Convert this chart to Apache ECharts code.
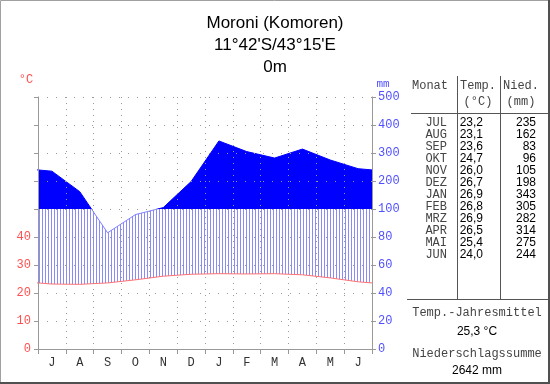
<!DOCTYPE html>
<html><head><meta charset="utf-8">
<script src="https://cdn.jsdelivr.net/npm/echarts@6/dist/echarts.min.js"></script>
<style>html,body{margin:0;padding:0;background:#fff}#c{width:550px;height:384px}</style>
</head><body><div id="c"></div>
<script>
// ---- data ----
const axisMonths = ['J','A','S','O','N','D','J','F','M','A','M','J'];
const tableMonths = ['JUL','AUG','SEP','OKT','NOV','DEZ','JAN','FEB','MRZ','APR','MAI','JUN'];
const temps = [23.2,23.1,23.6,24.7,26.0,26.7,26.9,26.8,26.9,26.5,25.4,24.0];
const precs = [235,162,83,96,105,198,343,305,282,314,275,244];
const titleLines = ['Moroni (Komoren)', "11°42'S/43°15'E", '0m'];

// ---- scales (Walter-Lieth: 10 °C = 20 mm, above 100 mm compressed 1:5) ----
const tToC = t => t * 2;
const pToC = p => p <= 100 ? p : 100 + (p - 100) / 5;
const cToT = c => c / 2;
const cToP = c => c <= 100 ? c : 100 + (c - 100) * 5;
const C_MAX = pToC(500);

function wrapSeries(vals, f) {
  const n = vals.length;
  const out = [[-0.5, f(vals[n - 1])]];
  vals.forEach((v, i) => out.push([i + 0.5, f(v)]));
  out.push([n + 0.5, f(vals[0])]);
  return out;
}
const fmt1 = v => v.toFixed(1).replace('.', ',');
const meanT = temps.reduce((a, b) => a + b, 0) / temps.length;
const sumP = precs.reduce((a, b) => a + b, 0);

// hatch pattern
const pc = document.createElement('canvas');
pc.width = 3; pc.height = 4;
const pctx = pc.getContext('2d');
pctx.fillStyle = '#ffffff'; pctx.fillRect(0, 0, 3, 4);
pctx.fillStyle = '#8a8aff'; pctx.fillRect(0, 0, 1, 4);

const MONO = '"Liberation Mono", "Courier New", monospace';
const SANS = '"Liberation Sans", Arial, sans-serif';

const graphics = [];
function txt(x, y, text, opt) {
  graphics.push({type: 'text', x: x, y: y, silent: true, z: 20,
    style: Object.assign({text: text, fill: '#000', font: '12px ' + SANS, align: 'center', verticalAlign: 'middle'}, opt || {})});
}
function line(x1, y1, x2, y2, color, w) {
  graphics.push({type: 'line', silent: true, z: 20, shape: {x1, y1, x2, y2}, style: {stroke: color, lineWidth: w || 1}});
}
// frame
graphics.push({type: 'rect', silent: true, z: 20, shape: {x: 0.5, y: 0.5, width: 548, height: 382}, style: {fill: null, stroke: '#a0a0a0', lineWidth: 1}});
line(0, 383, 550, 383, '#505050', 2);
line(549, 0, 549, 384, '#505050', 2);
// axis units
txt(26, 80, '°C', {fill: '#ff5050', font: '12px ' + MONO});
txt(383, 84, 'mm', {fill: '#5050ff', font: '11px ' + MONO});
// table
txt(430, 86, 'Monat', {fill: '#444', font: '12px ' + MONO});
txt(478, 86, 'Temp.', {fill: '#444', font: '12px ' + MONO});
txt(478, 102, '(°C)', {fill: '#444', font: '12px ' + MONO});
txt(521, 86, 'Nied.', {fill: '#444', font: '12px ' + MONO});
txt(521, 102, '(mm)', {fill: '#444', font: '12px ' + MONO});
line(457.5, 76, 457.5, 299, '#555');
line(500.5, 76, 500.5, 299, '#555');
line(411, 113.5, 548, 113.5, '#555');
line(407, 299.5, 548, 299.5, '#555');
tableMonths.forEach((m, i) => {
  const y = 123 + i * 12;
  txt(447, y, m, {fill: '#444', font: '12px ' + MONO, align: 'right'});
  txt(483, y, fmt1(temps[i]), {align: 'right'});
  txt(536, y, String(precs[i]), {align: 'right'});
});
txt(477, 313, 'Temp.-Jahresmittel', {fill: '#444', font: '12px ' + MONO});
txt(477, 332, fmt1(meanT) + ' °C');
txt(477, 354, 'Niederschlagssumme', {fill: '#444', font: '12px ' + MONO});
txt(477, 371, sumP + ' mm');

const chart = echarts.init(document.getElementById('c'), null, {renderer: 'canvas'});
chart.setOption({
  animation: false,
  backgroundColor: '#fff',
  title: {
    text: titleLines.join('\n'), left: 'center', top: 7,
    textStyle: {fontFamily: SANS, fontSize: 17, fontWeight: 'normal', color: '#000', lineHeight: 22}
  },
  grid: {left: 38, top: 97, width: 334, height: 252, containLabel: false},
  xAxis: [
    {type: 'category', data: axisMonths, boundaryGap: true, z: 10,
     axisLine: {lineStyle: {color: '#999'}},
     axisTick: {show: true, length: 5, alignWithLabel: false, lineStyle: {color: '#999'}},
     axisLabel: {margin: 8, color: '#333', fontFamily: MONO, fontSize: 12},
     splitLine: {show: true, lineStyle: {color: '#999', type: [1, 5]}}},
    {type: 'value', min: 0, max: 12, show: false}
  ],
  yAxis: [
    {type: 'value', position: 'left', min: 0, max: C_MAX, interval: 20, z: 10,
     axisLine: {show: true, lineStyle: {color: '#999'}},
     axisTick: {show: true, length: 4, lineStyle: {color: '#999'}},
     axisLabel: {margin: 7, color: '#ff5050', fontFamily: MONO, fontSize: 12,
                 formatter: v => (v <= tToC(40) ? String(cToT(v)) : '')},
     splitLine: {show: true, lineStyle: {color: '#999', type: [1, 8]}}},
    {type: 'value', position: 'right', min: 0, max: C_MAX, interval: 20, z: 10,
     axisLine: {show: true, lineStyle: {color: '#999'}},
     axisTick: {show: true, length: 4, lineStyle: {color: '#999'}},
     axisLabel: {margin: 6, color: '#5050ff', fontFamily: MONO, fontSize: 12,
                 formatter: v => String(Math.round(cToP(v)))},
     splitLine: {show: false}}
  ],
  visualMap: {
    type: 'piecewise', show: false, seriesIndex: 0, dimension: 1,
    pieces: [{min: -100, max: 100, color: '#8080ff'}, {min: 100, max: 1000, color: '#0000ff'}]
  },
  series: [
    {type: 'line', name: 'Niederschlag', xAxisIndex: 1, yAxisIndex: 0, data: wrapSeries(precs, pToC),
     symbol: 'none', clip: true, z: 2, lineStyle: {width: 1},
     areaStyle: {color: '#ffffff', opacity: 1, origin: 'end'},
     markArea: {silent: true, z: 1, label: {show: false},
       data: [
         [{yAxis: pToC(100), itemStyle: {color: '#0000ff', opacity: 1}}, {yAxis: C_MAX}],
         [{yAxis: 0, itemStyle: {color: {image: pc, repeat: 'repeat'}, opacity: 1}}, {yAxis: pToC(100)}]
       ]}},
    {type: 'line', name: 'Temperatur', xAxisIndex: 1, yAxisIndex: 0, data: wrapSeries(temps, tToC),
     symbol: 'none', clip: true, z: 3, lineStyle: {width: 1, color: '#ff7070'},
     areaStyle: {color: '#ffffff', opacity: 1, origin: 'start'}}
  ],
  graphic: graphics
});
</script>
</body></html>
